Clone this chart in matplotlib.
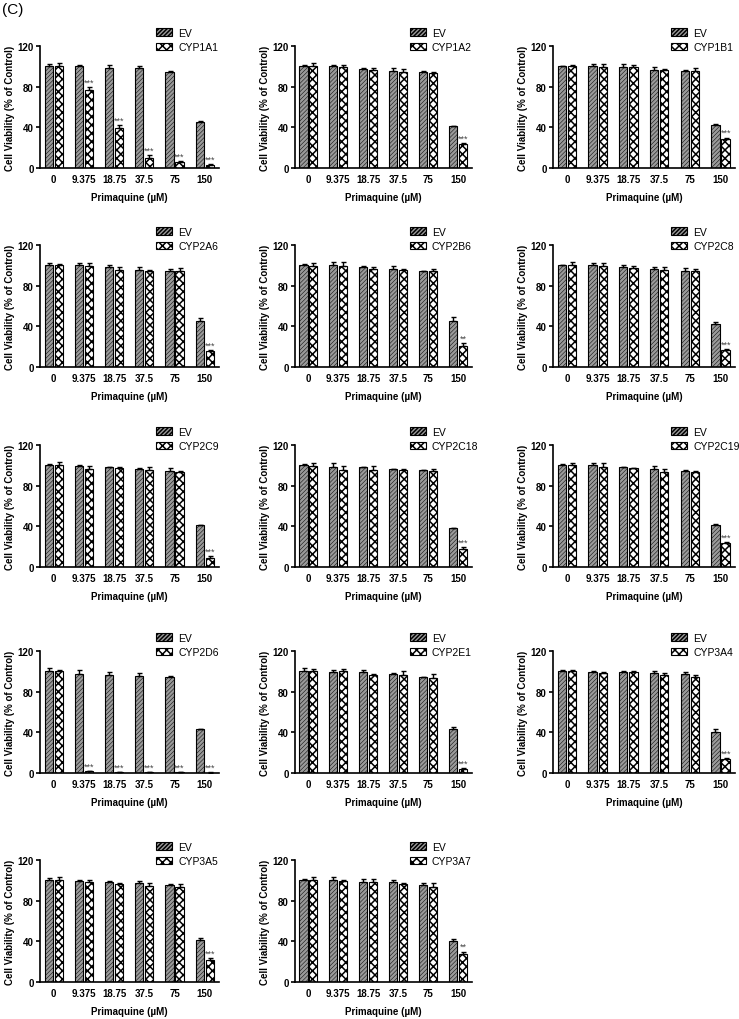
import numpy as np
import matplotlib
matplotlib.use('Agg')
import matplotlib.pyplot as plt
from matplotlib.patches import Patch

plt.rcParams['font.family'] = ['Liberation Sans', 'DejaVu Sans']

doses = ['0', '9.375', '18.75', '37.5', '75', '150']
genes = ['CYP1A1', 'CYP1A2', 'CYP1B1', 'CYP2A6', 'CYP2B6', 'CYP2C8', 'CYP2C9',
         'CYP2C18', 'CYP2C19', 'CYP2D6', 'CYP2E1', 'CYP3A4', 'CYP3A5', 'CYP3A7']

# EV (empty vector) means and SEM
ev_mean = [
    [100, 100, 98, 98, 94, 45],
    [100, 100, 97.5, 95.5, 94.5, 41],
    [100, 100.5, 99, 96, 95.5, 42],
    [100, 100.5, 98.5, 95, 94, 45],
    [100, 100, 98, 96, 94, 45],
    [100, 100.5, 98, 96.5, 94.5, 42],
    [100, 99.5, 98, 96, 94, 41],
    [100, 98.5, 98, 96, 95, 38],
    [100, 100, 98, 96.5, 94.5, 41],
    [100, 97, 96, 95.5, 94, 43],
    [100, 99.5, 99, 97.5, 94, 43],
    [100, 99.5, 99, 98.5, 97, 40],
    [100, 99.5, 98.5, 97, 95, 41],
    [100, 100, 98.5, 98.5, 95, 40],
]
ev_err = [
    [2, 1.5, 3, 2, 1, 1],
    [1, 1, 1, 3, 1, 0.5],
    [0.5, 1.5, 3, 3, 0.5, 1.5],
    [2.5, 1.5, 1.5, 3.5, 2.5, 3.5],
    [1, 3, 1.5, 3, 0.5, 4],
    [0.5, 2, 2, 2, 3, 2],
    [1, 0.5, 0.5, 1, 3, 0.5],
    [1, 3.5, 0.5, 0.5, 0.5, 0.5],
    [1, 2, 0.5, 2.5, 0.5, 1],
    [3, 4, 3, 3, 1, 0.5],
    [3, 2, 2, 1, 0.5, 2],
    [1, 1, 1, 1.5, 2, 3],
    [2, 1, 1, 2, 1, 2.5],
    [1, 3, 2.5, 2, 2.5, 2.5],
]

# CYP-expressing cells means and SEM
cyp_mean = [
    [100, 77, 39, 10, 6, 3],
    [100, 99, 96, 94, 93, 24],
    [100, 99, 99, 96, 95, 29],
    [100, 99, 95, 94, 94, 15.5],
    [99.5, 99.5, 96, 95, 94, 21],
    [100, 99.5, 97, 95.5, 94, 17],
    [100, 96.5, 97, 95, 93, 9],
    [99.5, 95.5, 95, 95, 94, 17.5],
    [100, 98.5, 97, 93, 93.5, 23.5],
    [100, 1.5, 0.8, 0.5, 0.5, 0.3],
    [100, 100, 96, 96, 93.5, 4],
    [100, 98.5, 99, 96, 94, 14],
    [100, 98.5, 96, 94, 93, 22],
    [100, 99, 98.5, 96, 93.5, 28],
]
cyp_err = [
    [3, 3, 3, 3, 1, 0.5],
    [3, 2, 2, 3, 1, 1],
    [1.5, 3.5, 2, 1, 3, 1],
    [1, 3, 3, 1, 3, 1],
    [3, 4, 2, 1.5, 2.5, 3],
    [3, 2.5, 2, 3, 2.5, 1],
    [3, 2.5, 1, 3.5, 1.5, 2],
    [2.5, 4, 4, 1, 2.5, 2.5],
    [2.5, 3.5, 0.5, 3, 1, 1],
    [1, 0.5, 0.3, 0.3, 0.3, 0.2],
    [2.5, 2.5, 1.5, 4, 3.5, 1],
    [1, 1, 1, 2.5, 2.5, 1],
    [3, 2, 1, 3, 3, 2],
    [3, 1.5, 2.5, 1, 4, 2],
]
stars = [
    ['', '***', '***', '***', '***', '***'],
    ['', '', '', '', '', '***'],
    ['', '', '', '', '', '***'],
    ['', '', '', '', '', '***'],
    ['', '', '', '', '', '**'],
    ['', '', '', '', '', '***'],
    ['', '', '', '', '', '***'],
    ['', '', '', '', '', '***'],
    ['', '', '', '', '', '***'],
    ['', '***', '***', '***', '***', '***'],
    ['', '', '', '', '', '***'],
    ['', '', '', '', '', '***'],
    ['', '', '', '', '', '***'],
    ['', '', '', '', '', '**'],
]

W, H = 739, 1020
fig = plt.figure(figsize=(W / 100, H / 100), dpi=100)

col_left = [40, 295, 553]
col_w = [179, 177, 182]
row_bottom = [169, 368, 568, 774, 983]
ax_h = 122

ev_style = dict(facecolor='#9a9a9a', edgecolor='black', hatch='////////', linewidth=0.8)
cyp_style = dict(facecolor='white', edgecolor='black', hatch='xxxx', linewidth=0.8)

x = np.arange(len(doses))
bw = 0.27
off = 0.165

for i, g in enumerate(genes):
    r, c = divmod(i, 3)
    ax = fig.add_axes([col_left[c] / W, 1 - row_bottom[r] / H, col_w[c] / W, ax_h / H])

    ev = np.array(ev_mean[i])
    cy = np.array(cyp_mean[i])
    ee = np.array(ev_err[i])
    ce = np.array(cyp_err[i])

    plt.rcParams['hatch.linewidth'] = 0.35
    ax.bar(x - off, ev, bw, **ev_style)
    ev_h = Patch(**ev_style)
    plt.rcParams['hatch.linewidth'] = 1.1
    ax.bar(x + off, cy, bw, **cyp_style)
    cyp_h = Patch(**cyp_style)

    ax.errorbar(x - off, ev, yerr=[np.zeros(6), ee], fmt='none', ecolor='black',
                elinewidth=1, capsize=1.8, capthick=1)
    ax.errorbar(x + off, cy, yerr=[np.zeros(6), ce], fmt='none', ecolor='black',
                elinewidth=1, capsize=1.8, capthick=1)

    for j, s in enumerate(stars[i]):
        if s:
            ax.text(x[j] + off, cy[j] + ce[j] + 0.3, s, ha='center', va='bottom',
                    fontsize=6.5, color='#444444')

    ax.set_xlim(-0.45, 5.47)
    ax.set_ylim(0, 120)
    ax.set_yticks([0, 40, 80, 120])
    ax.set_xticks(x)
    ax.set_xticklabels(doses)
    for side in ['top', 'right']:
        ax.spines[side].set_visible(False)
    for side in ['left', 'bottom']:
        ax.spines[side].set_linewidth(1.2)
    ax.tick_params(axis='y', length=3, width=1.2, pad=1.5, labelsize=7)
    ax.tick_params(axis='x', length=0, pad=4, labelsize=7)
    for lab in ax.get_xticklabels() + ax.get_yticklabels():
        lab.set_fontweight('bold')
    ax.set_ylabel('Cell Viability (% of Control)', fontsize=7, fontweight='bold', labelpad=2)
    ax.set_xlabel('Primaquine (\u00b5M)', fontsize=7, fontweight='bold', labelpad=6)

    ax.legend([ev_h, cyp_h], ['EV', g], loc='upper left', bbox_to_anchor=(0.65, 1.15),
              frameon=False, fontsize=7.5, handlelength=1.5, handleheight=0.7,
              handletextpad=0.6, labelspacing=0.4, borderaxespad=0, borderpad=0)

fig.text(0.003, 0.997, '(C)', fontsize=11, va='top', ha='left')

fig.savefig('out.png', dpi=100)
